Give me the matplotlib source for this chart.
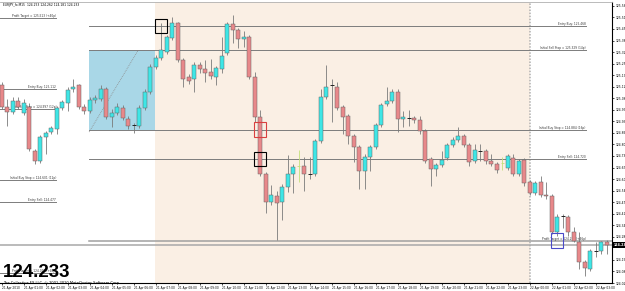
import matplotlib
matplotlib.use("Agg")
import matplotlib.pyplot as plt
from matplotlib.patches import Rectangle

# --- last bar / header -------------------------------------------------------
HEADER = "EURJPY_fx,M15  124.253 124.262 124.181 124.233"
COPYRIGHT = "The Collective FX LLC, \u00a9 2001-2010 MetaQuotes Software Corp."
BID = 124.233

# --- M15 candles, 21 Apr 00:00 .. 22 Apr 03:30 --------------------------------
opens = [
    125.132, 125.009, 124.981, 125.042, 124.975, 125.009, 124.762, 124.706, 124.841, 124.869,
    124.886, 125.003, 125.031, 125.110, 125.132, 125.009, 124.986, 125.048, 125.054, 125.110,
    124.953, 124.975, 125.003, 124.942, 124.908, 124.902, 125.003, 125.093, 125.238, 125.289,
    125.322, 125.401, 125.485, 125.278, 125.177, 125.166, 125.250, 125.227, 125.210, 125.182,
    125.227, 125.317, 125.479, 125.446, 125.395, 125.406, 125.182, 124.953, 124.634, 124.477,
    124.510, 124.477, 124.561, 124.634, 124.678, 124.678, 124.634, 124.634, 124.818, 125.065,
    125.132, 125.126, 125.009, 124.958, 124.846, 124.785, 124.650, 124.729, 124.785, 124.908,
    125.026, 125.042, 125.093, 124.942, 124.947, 124.947, 124.936, 124.874, 124.718, 124.662,
    124.684, 124.723, 124.796, 124.824, 124.846, 124.796, 124.706, 124.762, 124.762, 124.706,
    124.690, 124.695, 124.667, 124.723, 124.634, 124.712, 124.589, 124.527, 124.589, 124.516,
    124.510, 124.309, 124.398, 124.393, 124.309, 124.253, 124.141, 124.101, 124.202, 124.202,
    124.253]
highs = [
    125.149, 125.054, 125.065, 125.065, 125.054, 125.031, 124.774, 124.852, 124.874, 124.902,
    125.014, 125.048, 125.121, 125.166, 125.143, 125.026, 125.065, 125.076, 125.132, 125.126,
    124.998, 125.031, 125.020, 124.958, 124.919, 125.020, 125.110, 125.255, 125.305, 125.485,
    125.418, 125.518, 125.490, 125.289, 125.199, 125.266, 125.266, 125.278, 125.283, 125.244,
    125.406, 125.490, 125.530, 125.457, 125.440, 125.418, 125.210, 124.992, 124.645, 124.572,
    124.538, 124.577, 124.740, 124.690, 124.768, 124.729, 124.729, 124.830, 125.110, 125.250,
    125.166, 125.154, 125.020, 124.970, 124.858, 124.796, 124.746, 124.796, 124.919, 125.031,
    125.121, 125.110, 125.110, 124.986, 124.992, 124.958, 124.958, 124.886, 124.729, 124.695,
    124.762, 124.807, 124.841, 124.897, 124.858, 124.807, 124.801, 124.801, 124.774, 124.746,
    124.701, 124.729, 124.746, 124.746, 124.718, 124.723, 124.600, 124.594, 124.622, 124.589,
    124.521, 124.410, 124.410, 124.404, 124.337, 124.309, 124.152, 124.214, 124.253, 124.258,
    124.262]
lows = [
    124.998, 124.902, 124.970, 124.998, 124.964, 124.762, 124.690, 124.695, 124.746, 124.858,
    124.858, 124.992, 124.986, 125.093, 124.998, 124.970, 124.975, 125.031, 125.042, 124.942,
    124.897, 124.964, 124.936, 124.886, 124.863, 124.891, 124.992, 125.082, 125.222, 125.278,
    125.311, 125.390, 125.266, 125.126, 125.143, 125.098, 125.205, 125.154, 125.166, 125.132,
    125.205, 125.305, 125.373, 125.345, 125.350, 125.171, 124.925, 124.622, 124.415, 124.460,
    124.264, 124.376, 124.533, 124.527, 124.589, 124.538, 124.606, 124.622, 124.807, 125.054,
    124.925, 124.992, 124.858, 124.801, 124.701, 124.550, 124.550, 124.650, 124.774, 124.897,
    125.014, 125.031, 124.869, 124.897, 124.902, 124.919, 124.858, 124.695, 124.566, 124.622,
    124.673, 124.712, 124.785, 124.813, 124.785, 124.678, 124.695, 124.706, 124.690, 124.678,
    124.639, 124.656, 124.656, 124.622, 124.622, 124.566, 124.516, 124.516, 124.505, 124.494,
    124.297, 124.286, 124.331, 124.286, 124.253, 124.101, 124.062, 124.090, 124.169, 124.186,
    124.181]
closes = [
    125.009, 124.981, 125.042, 125.009, 125.031, 124.774, 124.706, 124.841, 124.863, 124.891,
    125.003, 125.037, 125.104, 125.126, 125.009, 124.986, 125.048, 125.059, 125.115, 124.953,
    124.975, 125.009, 124.947, 124.902, 124.908, 125.003, 125.093, 125.238, 125.289, 125.334,
    125.406, 125.485, 125.278, 125.166, 125.160, 125.250, 125.222, 125.205, 125.188, 125.233,
    125.300, 125.479, 125.446, 125.395, 125.406, 125.182, 124.953, 124.634, 124.477, 124.516,
    124.471, 124.561, 124.634, 124.673, 124.678, 124.634, 124.634, 124.818, 125.065, 125.126,
    125.132, 125.003, 124.953, 124.846, 124.785, 124.650, 124.729, 124.785, 124.908, 125.020,
    125.042, 125.098, 124.942, 124.953, 124.947, 124.936, 124.874, 124.706, 124.662, 124.684,
    124.712, 124.796, 124.824, 124.846, 124.796, 124.701, 124.768, 124.762, 124.706, 124.690,
    124.656, 124.695, 124.734, 124.634, 124.706, 124.583, 124.527, 124.583, 124.516, 124.510,
    124.309, 124.393, 124.398, 124.309, 124.258, 124.141, 124.107, 124.202, 124.202, 124.253,
    124.233]
ODD_BARS = [54, 91]          # bars drawn as thin yellow-green marks

TIME_LABELS = [
    "21 Apr 2010", "21 Apr 01:00", "21 Apr 02:00", "21 Apr 03:00", "21 Apr 04:00",
    "21 Apr 05:00", "21 Apr 06:00", "21 Apr 07:00", "21 Apr 08:00", "21 Apr 09:00",
    "21 Apr 10:00", "21 Apr 11:00", "21 Apr 12:00", "21 Apr 13:00", "21 Apr 14:00",
    "21 Apr 15:00", "21 Apr 16:00", "21 Apr 17:00", "21 Apr 18:00", "21 Apr 19:00",
    "21 Apr 20:00", "21 Apr 21:00", "21 Apr 22:00", "21 Apr 23:00", "22 Apr 00:00",
    "22 Apr 01:00", "22 Apr 02:00", "22 Apr 03:00"]
TIME_POS = list(range(0, 112, 4))

YTICKS = [125.580, 125.515, 125.450, 125.385, 125.320, 125.255, 125.190, 125.125,
          125.060, 124.995, 124.930, 124.865, 124.800, 124.735, 124.670, 124.605,
          124.540, 124.475, 124.410, 124.345, 124.280, 124.150, 124.085, 124.020]

# previous-day breakout levels (left) and today's (right)
LEFT_LEVELS = [125.513, 125.112, 124.997, 124.601, 124.477, 124.077]
LEFT_TEXT = ["Profit Target = 125.513 (+40p)", "Entry Buy: 125.112",
             "Initial Sell Stop = 124.997 (12p)", "Initial Buy Stop = 124.601 (12p)",
             "Entry Sell: 124.477", "Profit Target = 124.077 (+40p)"]
RIGHT_LEVELS = [125.468, 125.329, 124.884, 124.720]
RIGHT_TEXT = ["Entry Buy: 125.468", "Initial Sell Stop = 125.329 (14p)",
              "Initial Buy Stop = 124.884 (16p)", "Entry Sell: 124.720"]
TARGET_LEVEL = 124.259
TARGET_TEXT = "Profit Target = 124.259 (+46p)"

BOX_TOP, BOX_BOTTOM = 125.329, 124.884
BOX_START, BOX_END = 15.9, 27.9          # 04:00 .. 07:00 range box
SESSION_END = 96.0                       # peach session until 22 Apr 00:00
DIAG = ([15.9, 24.8], [124.870, 125.330])
HITS = [(29, 125.468, "black"), (47, 124.884, "#d84040"),
        (47, 124.720, "black"), (101, 124.259, "#4a4ac8")]

BULL, BEAR = "#3ee6e6", "#e8888a"
LINE = "#7c7c7c"

fig = plt.figure(figsize=(6.25, 2.91), dpi=100)
ax = fig.add_axes([0, 8 / 291, 612 / 625, 281 / 291])
ax.set_xlim(-0.31, 110.96)
ax.set_ylim(124.030, 125.602)

ax.axvspan(BOX_END, SESSION_END, color="#faefe4", lw=0, zorder=0)
ax.add_patch(Rectangle((BOX_START, BOX_BOTTOM), BOX_END - BOX_START, BOX_TOP - BOX_BOTTOM,
                       fc="#a9d7e7", ec="none", zorder=0.5))
ax.plot(*DIAG, color="#8e8e8e", lw=0.6, ls=(0, (1, 1.2)), zorder=0.6)
ax.axvline(SESSION_END, color="#b0b0b0", lw=1.1, ls=(0, (1, 1)), zorder=0.6)

for lv, tx in zip(LEFT_LEVELS, LEFT_TEXT):
    ax.plot([-0.31, 9.9], [lv, lv], color=LINE, lw=0.7, zorder=1)
    ax.text(9.9, lv, tx, fontsize=2.1, ha="right", va="bottom", color="#333333")
for lv, tx in zip(RIGHT_LEVELS, RIGHT_TEXT):
    ax.plot([BOX_START, 106.2], [lv, lv], color=LINE, lw=0.7, zorder=1)
    ax.text(106.2, lv, tx, fontsize=2.1, ha="right", va="bottom", color="#333333")
ax.plot([BOX_START, 110.96], [TARGET_LEVEL, TARGET_LEVEL], color="#a0a0a0", lw=1.1, zorder=1)
ax.text(106.2, TARGET_LEVEL, TARGET_TEXT, fontsize=2.1, ha="right", va="bottom", color="#333333")
ax.axhline(BID, color="#a8a8a8", lw=1.1, zorder=1)

for i, (o, h, l, c) in enumerate(zip(opens, highs, lows, closes)):
    if i in ODD_BARS:
        ax.vlines(i, l, h, color="#c4e07a", lw=0.6, zorder=2)
        ax.hlines(o, i - 0.3, i + 0.3, color="#c4e07a", lw=0.6, zorder=2)
        continue
    ax.vlines(i, l, h, color="#7a7a7a", lw=0.6, zorder=2)
    if c == o:
        ax.hlines(o, i - 0.35, i + 0.35, color="#222222", lw=0.7, zorder=3)
    else:
        ax.add_patch(Rectangle((i - 0.35, min(o, c)), 0.7, abs(c - o),
                               fc=BULL if c > o else BEAR, ec="#666666", lw=0.35, zorder=3))

for x, y, col in HITS:
    ax.add_patch(Rectangle((x - 1.1, y - 0.04), 2.2, 0.08, fill=False, ec=col, lw=0.8, zorder=4))

# axes in MT4 style
ax.spines["left"].set_visible(False)
ax.spines["top"].set_color("#b0b0b0")
ax.spines["top"].set_linewidth(0.6)
ax.spines["right"].set_linewidth(0.8)
ax.spines["bottom"].set_linewidth(0.8)
ax.yaxis.tick_right()
ax.set_yticks(YTICKS)
ax.set_yticklabels([f"{v:.3f}" for v in YTICKS])
ax.tick_params(axis="y", labelsize=2.2, length=1.5, width=0.5, pad=1)
ax.set_xticks(TIME_POS)
ax.set_xticklabels(TIME_LABELS)
ax.tick_params(axis="x", labelsize=2.1, length=1.5, width=0.5, pad=0.8)
plt.setp(ax.get_xticklabels(), ha="left")

ax.text(1.002, BID, f"{BID:.3f}", transform=ax.get_yaxis_transform(), fontsize=2.3,
        color="white", weight="bold", va="center", ha="left",
        bbox=dict(fc="black", ec="none", pad=0.6))

fig.text(3 / 625, 1 - 5 / 291, HEADER, fontsize=2.2, va="center", ha="left")
fig.text(3 / 625, 14 / 291, f"{BID:.3f}", fontsize=13.5, family="Liberation Sans",
         weight="bold", va="baseline", ha="left")
fig.text(3 / 625, 7 / 291, COPYRIGHT, fontsize=2.6, va="baseline", ha="left")

fig.savefig("out.png", dpi=100)
